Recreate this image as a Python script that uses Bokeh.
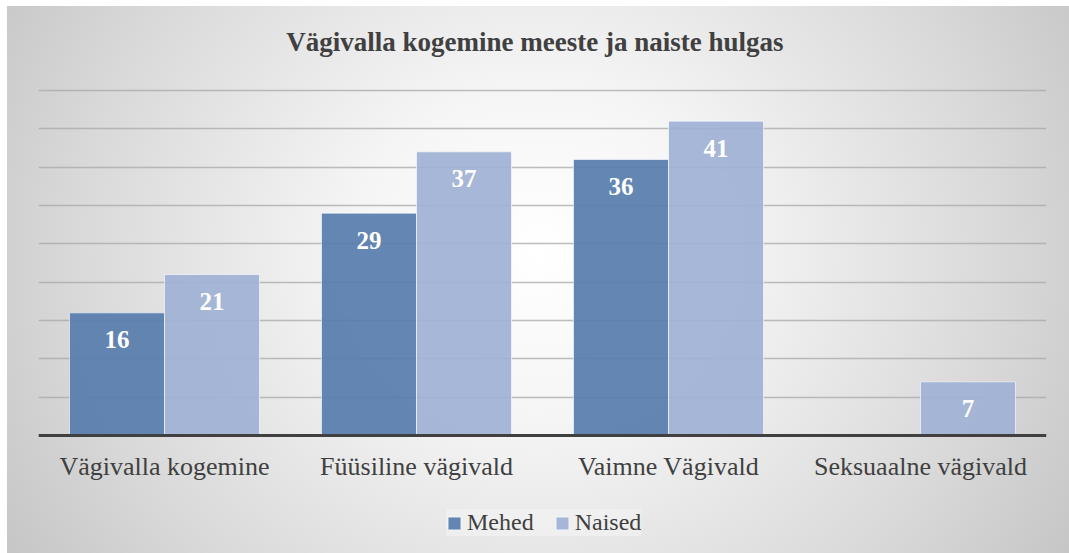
from bokeh.plotting import figure
from bokeh.models import ColumnDataSource, Range1d, Grid, FixedTicker, Legend, LegendItem, Span, Label
from bokeh.transform import dodge
from bokeh.core.properties import value
from bokeh.embed import file_html
from bokeh.resources import INLINE

categories = ["Vägivalla kogemine", "Füüsiline vägivald", "Vaimne Vägivald", "Seksuaalne vägivald"]
mehed = [16, 29, 36, 0]
naised = [21, 37, 41, 7]
series_names = ["Mehed", "Naised"]
title_text = "Vägivalla kogemine meeste ja naiste hulgas"
grid_ticks = [5, 10, 15, 20, 25, 30, 35, 40, 45]
y_max = 45

src = ColumnDataSource(dict(cat=categories, mehed=mehed, naised=naised,
                            mehed_lbl=[str(v) if v > 0 else "" for v in mehed],
                            naised_lbl=[str(v) if v > 0 else "" for v in naised]))

# layout in pixels: 345 px for the 0..45 plot area, frame stretched to hold title, labels, legend
ppu = 345 / y_max
above_px, below_px = 84, 463
p = figure(x_range=categories, y_range=Range1d(y_max - below_px / ppu, y_max + above_px / ppu),
           frame_width=1008, frame_height=above_px + below_px,
           output_backend="svg", toolbar_location=None,
           x_axis_location=None, y_axis_location=None,
           min_border_left=31, min_border_right=23, min_border_top=0, min_border_bottom=0)
p.styles = {"margin-left": "7px", "margin-top": "6px",
            "background-image": "radial-gradient(ellipse 62% 110% at 50% 45%, #ffffff 0%, #f5f5f5 28%, #d9d9d9 70%, #c2c2c2 100%)"}
p.background_fill_alpha = 0
p.border_fill_alpha = 0
p.outline_line_color = None

p.xgrid.visible = False
p.ygrid.visible = False
p.add_layout(Grid(dimension=1, ticker=FixedTicker(ticks=grid_ticks),
                  grid_line_color="#a8a8a8", grid_line_alpha=0.75, grid_line_width=1.5))

# title
p.add_layout(Label(x=1.97, y=y_max + 49 / ppu, text=title_text, text_align="center",
                   text_baseline="middle", text_font="Liberation Serif", text_font_size="27px",
                   text_font_style="bold", text_color="#404040"))

w = 0.377
c1, c2 = "#587dac", "#a0b2d4"
r1 = p.vbar(x=dodge("cat", -w / 2, range=p.x_range), top="mehed", bottom=0, width=w, source=src,
            fill_color=c1, fill_alpha=0.93, line_color="white", line_alpha=0.6, line_width=1)
r2 = p.vbar(x=dodge("cat", w / 2, range=p.x_range), top="naised", bottom=0, width=w, source=src,
            fill_color=c2, fill_alpha=0.93, line_color="white", line_alpha=0.6, line_width=1)

for col, off in (("mehed", -w / 2), ("naised", w / 2)):
    p.text(x=dodge("cat", off, range=p.x_range), y=col, text=col + "_lbl", source=src,
           text_align="center", text_baseline="middle", y_offset=27,
           text_font=value("Liberation Serif"), text_font_style="bold",
           text_font_size="25px", text_color="white")

# baseline
p.add_layout(Span(location=0, dimension="width", line_color="#404040", line_width=3))

# category labels under the baseline
p.text(x="cat", y=0, text="cat", source=src, text_align="center", text_baseline="middle",
       y_offset=31, text_font=value("Liberation Serif"), text_font_size="26px",
       text_color="#404040")

legend = Legend(items=[LegendItem(label=series_names[0], renderers=[r1]),
                       LegendItem(label=series_names[1], renderers=[r2])],
                orientation="horizontal", location=(408, 17),
                glyph_width=16, glyph_height=16, label_standoff=5, spacing=20,
                padding=13, margin=0,
                label_text_font="Liberation Serif", label_text_font_size="24px",
                label_text_color="#404040",
                background_fill_color="#f4f4f4", background_fill_alpha=0.6,
                border_line_color=None)
p.add_layout(legend, "center")

open("out.html", "w").write(file_html(p, INLINE))
